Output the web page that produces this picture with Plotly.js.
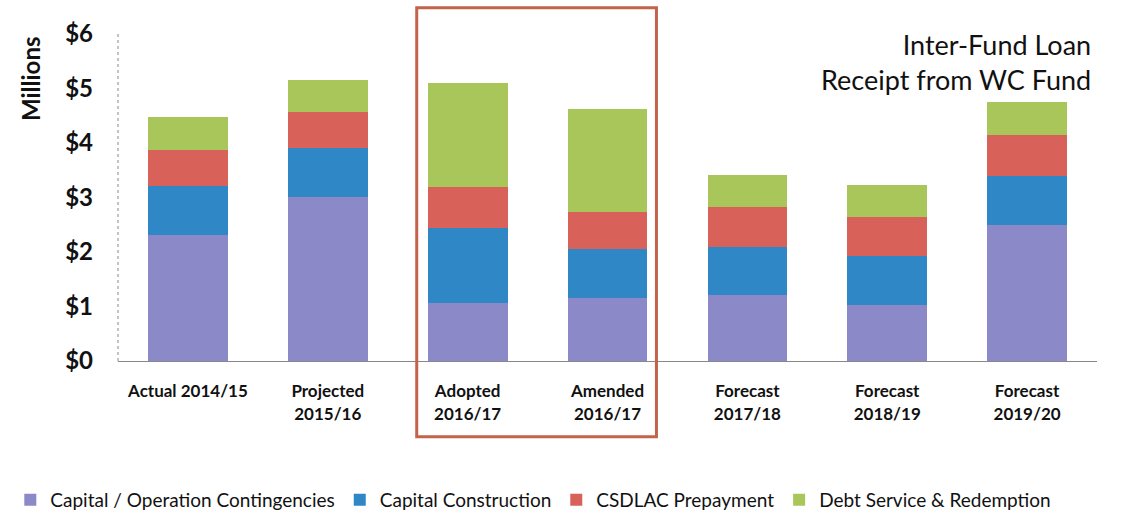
<!DOCTYPE html>
<html>
<head>
<meta charset="utf-8">
<script src="https://cdn.plot.ly/plotly-3.0.1.min.js"></script>
<style>html,body{margin:0;padding:0;background:#fff;}#chart{width:1132px;height:515px;}</style>
</head>
<body>
<div id="chart"></div>
<script>
const categories = ["Actual 2014/15", "Projected<br>2015/16", "Adopted<br>2016/17", "Amended<br>2016/17", "Forecast<br>2017/18", "Forecast<br>2018/19", "Forecast<br>2019/20"];
const capitalOperation = [2.32, 3.01, 1.07, 1.16, 1.21, 1.03, 2.50];
const capitalConstruction = [0.90, 0.90, 1.37, 0.90, 0.88, 0.90, 0.89];
const csdlacPrepayment = [0.66, 0.66, 0.75, 0.67, 0.74, 0.71, 0.76];
const debtService = [0.60, 0.59, 1.91, 1.89, 0.58, 0.59, 0.60];
const seriesNames = ["Capital / Operation Contingencies", "Capital Construction", "CSDLAC Prepayment", "Debt Service & Redemption"];
const yTickVals = [0, 1, 2, 3, 4, 5, 6];
const yTickText = ["$0", "$1", "$2", "$3", "$4", "$5", "$6"];

const colors = ["#8b89c7", "#2f88c5", "#d8625a", "#a9c65b"];
const seriesData = [capitalOperation, capitalConstruction, csdlacPrepayment, debtService];
const xIdx = categories.map((c, i) => i);

const traces = seriesData.map((vals, k) => ({
  type: "bar",
  name: seriesNames[k],
  x: xIdx,
  y: vals,
  marker: {color: colors[k], line: {width: 0}},
  hoverinfo: "y+name"
}));

const font = "Lato, 'Open Sans', sans-serif";
const layout = {
  width: 1132,
  height: 515,
  barmode: "stack",
  bargap: 0.43,
  paper_bgcolor: "#fff",
  plot_bgcolor: "#fff",
  margin: {l: 118, r: 35, t: 34, b: 154, autoexpand: false},
  font: {family: font, color: "#111"},
  xaxis: {
    tickvals: xIdx,
    ticktext: categories,
    range: [-0.5, 6.5],
    showgrid: false,
    zeroline: false,
    showline: true,
    linecolor: "#888",
    linewidth: 1,
    ticks: "",
    ticklabelstandoff: 15,
    automargin: false,
    tickfont: {family: font, size: 17, color: "#111", weight: "bold"}
  },
  yaxis: {
    range: [0, 6],
    tickvals: yTickVals,
    ticktext: yTickText,
    showgrid: false,
    zeroline: false,
    showline: false,
    ticks: "",
    automargin: false,
    ticklabelstandoff: 24,
    tickfont: {family: font, size: 24, color: "#111", weight: "bold"}
  },
  legend: {
    orientation: "h",
    xref: "paper",
    x: -0.11,
    xanchor: "left",
    yref: "paper",
    y: -0.425,
    yanchor: "middle",
    font: {family: font, size: 19, color: "#111"},
    itemwidth: 30,
    tracegroupgap: 0,
    traceorder: "normal"
  },
  shapes: [
    {type: "line", xref: "paper", yref: "paper", x0: 0, x1: 0, y0: 0, y1: 1, line: {color: "#888", width: 1, dash: "dot"}},
    {type: "rect", xref: "x", yref: "paper", x0: 1.636, x1: 3.35, y0: -0.232, y1: 1.08, line: {color: "#c2634a", width: 3}, fillcolor: "rgba(0,0,0,0)"}
  ],
  annotations: [
    {xref: "paper", yref: "paper", x: 0.996, y: 0.914, xanchor: "right", yanchor: "middle", align: "right", showarrow: false,
     text: "Inter-Fund Loan<br>Receipt from WC Fund", font: {family: font, size: 27, color: "#111"}},
    {xref: "paper", yref: "paper", x: -0.09, y: 0.865, xanchor: "center", yanchor: "middle", textangle: -90, showarrow: false,
     text: "<b>Millions</b>", font: {family: font, size: 24, color: "#111"}}
  ],
  showlegend: true
};

Plotly.newPlot("chart", traces, layout, {displayModeBar: false, staticPlot: true});
</script>
</body>
</html>
